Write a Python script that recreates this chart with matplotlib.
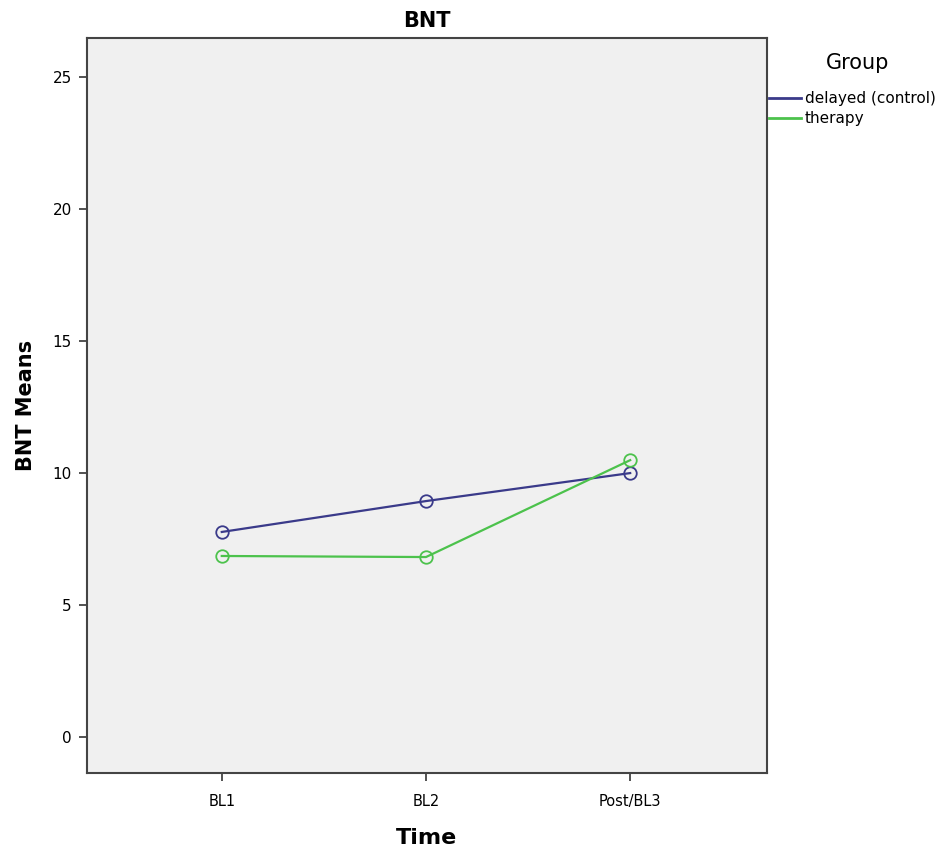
import matplotlib
matplotlib.use("Agg")
import matplotlib.pyplot as plt
from matplotlib.lines import Line2D

categories = ["BL1", "BL2", "Post/BL3"]
delayed = [7.77, 8.94, 10.0]
therapy = [6.86, 6.82, 10.49]
group_names = ["delayed (control)", "therapy"]
y_ticks = [0, 5, 10, 15, 20, 25]

c_delayed = "#3a3a8a"
c_therapy = "#4cc24c"

fig = plt.figure(figsize=(9.53, 8.52), dpi=100)
ax = fig.add_axes([87/953, 1-773/852, (767-87)/953, (773-38)/852])
ax.set_facecolor("#f0f0f0")

x = list(range(len(categories)))
ax.plot(x, delayed, color=c_delayed, lw=1.6, marker="o", ms=9,
        mfc="none", mec=c_delayed, mew=1.3)
ax.plot(x, therapy, color=c_therapy, lw=1.6, marker="o", ms=9,
        mfc="none", mec=c_therapy, mew=1.3)

ax.set_xlim(-0.66, 2.67)
ax.set_ylim(-1.36, 26.48)
ax.set_xticks(x)
ax.set_xticklabels(categories, fontsize=10.5)
ax.set_yticks(y_ticks)
ax.set_yticklabels([str(v) for v in y_ticks], fontsize=11)
ax.tick_params(axis="y", length=6, color="#333333", width=1.2, pad=5)
ax.tick_params(axis="x", length=6, color="#333333", width=1.2, pad=9)

for s in ax.spines.values():
    s.set_color("#444444")
    s.set_linewidth(1.5)

ax.set_title("BNT", fontsize=15, fontweight="bold", pad=8)
ax.set_xlabel("Time", fontsize=16, fontweight="bold", labelpad=14)
ax.set_ylabel("BNT Means", fontsize=15, fontweight="bold", labelpad=12)

fig.text(858/953, 1-63/852, "Group", fontsize=15, ha="center", va="center")
handles = [Line2D([0], [0], color=c_delayed, lw=2),
           Line2D([0], [0], color=c_therapy, lw=2)]
leg = fig.legend(handles, group_names, loc="upper left",
                 bbox_to_anchor=(766/953, 1-88/852), frameon=False,
                 fontsize=11, handlelength=2.1,
                 handletextpad=0.25, labelspacing=0.35, borderpad=0.2,
                 borderaxespad=0)

fig.savefig("out.png", dpi=100)
